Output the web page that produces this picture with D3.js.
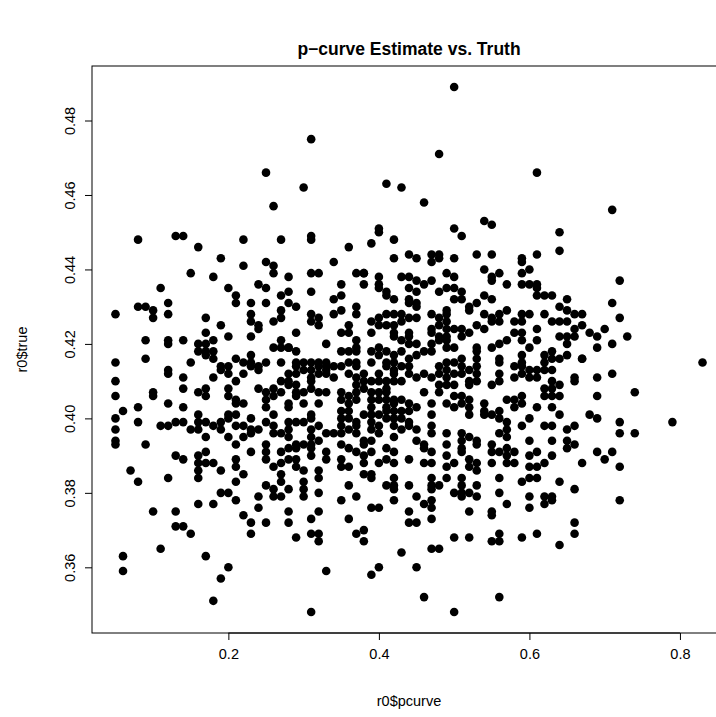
<!DOCTYPE html>
<html>
<head>
<meta charset="utf-8">
<script src="https://cdn.jsdelivr.net/npm/d3@7"></script>
<style>
  body { margin: 0; background: #fff; }
  text { font-family: "Liberation Sans", Arial, Helvetica, sans-serif; }
</style>
</head>
<body>
<svg id="chart" width="716" height="717"></svg>
<script>
// p-curve estimate, one value per column (the estimates come in steps of 0.01)
const pcurveCols = [0.05, 0.06, 0.07, 0.08, 0.09, 0.10, 0.11, 0.12, 0.13, 0.14, 0.15, 0.16, 0.17, 0.18, 0.19,
  0.20, 0.21, 0.22, 0.23, 0.24, 0.25, 0.26, 0.27, 0.28, 0.29, 0.30, 0.31, 0.32, 0.33, 0.34, 0.35, 0.36, 0.37,
  0.38, 0.39, 0.40, 0.41, 0.42, 0.43, 0.44, 0.45, 0.46, 0.47, 0.48, 0.49, 0.50, 0.51, 0.52, 0.53, 0.54, 0.55,
  0.56, 0.57, 0.58, 0.59, 0.60, 0.61, 0.62, 0.63, 0.64, 0.65, 0.66, 0.67, 0.68, 0.69, 0.70, 0.71, 0.72, 0.73,
  0.74, 0.79, 0.83];

// true values for each of the columns above
const truthCols = [
  [0.428, 0.415, 0.410, 0.406, 0.400, 0.397, 0.394, 0.393],
  [0.402, 0.363, 0.359],
  [0.386],
  [0.448, 0.430, 0.403, 0.399, 0.383],
  [0.430, 0.421, 0.416, 0.393],
  [0.429, 0.427, 0.407, 0.406, 0.375],
  [0.435, 0.398, 0.365],
  [0.431, 0.428, 0.421, 0.420, 0.413, 0.412, 0.404, 0.398, 0.384],
  [0.449, 0.399, 0.390, 0.375, 0.371],
  [0.449, 0.421, 0.411, 0.408, 0.403, 0.399, 0.389, 0.371],
  [0.439, 0.415, 0.397, 0.369],
  [0.446, 0.420, 0.418, 0.407, 0.401, 0.399, 0.397, 0.390, 0.388, 0.386, 0.384, 0.377],
  [0.427, 0.423, 0.420, 0.418, 0.417, 0.408, 0.406, 0.399, 0.395, 0.391, 0.388, 0.363],
  [0.438, 0.421, 0.418, 0.416, 0.411, 0.398, 0.388, 0.377, 0.351],
  [0.443, 0.425, 0.414, 0.413, 0.399, 0.397, 0.386, 0.380, 0.357],
  [0.435, 0.422, 0.414, 0.412, 0.408, 0.406, 0.401, 0.400, 0.395, 0.380, 0.360],
  [0.433, 0.431, 0.416, 0.410, 0.405, 0.404, 0.401, 0.398, 0.393, 0.389, 0.387, 0.383, 0.378],
  [0.448, 0.441, 0.415, 0.412, 0.404, 0.398, 0.395, 0.385, 0.374],
  [0.431, 0.428, 0.426, 0.422, 0.417, 0.415, 0.414, 0.400, 0.397, 0.396, 0.391, 0.372, 0.369],
  [0.436, 0.425, 0.424, 0.414, 0.413, 0.408, 0.397, 0.379, 0.376],
  [0.466, 0.442, 0.435, 0.431, 0.415, 0.407, 0.405, 0.403, 0.399, 0.393, 0.391, 0.389, 0.382, 0.372],
  [0.457, 0.441, 0.439, 0.426, 0.419, 0.408, 0.406, 0.401, 0.398, 0.396, 0.387, 0.381, 0.379],
  [0.448, 0.433, 0.429, 0.427, 0.421, 0.419, 0.415, 0.410, 0.407, 0.396, 0.391, 0.388, 0.385, 0.383, 0.379],
  [0.438, 0.434, 0.431, 0.419, 0.419, 0.412, 0.410, 0.409, 0.404, 0.403, 0.399, 0.397, 0.395, 0.392, 0.389,
    0.381, 0.375, 0.372],
  [0.430, 0.423, 0.418, 0.415, 0.414, 0.412, 0.409, 0.407, 0.406, 0.399, 0.393, 0.392, 0.389, 0.387, 0.368],
  [0.462, 0.415, 0.413, 0.407, 0.404, 0.399, 0.393, 0.386, 0.383, 0.381, 0.379],
  [0.475, 0.449, 0.448, 0.439, 0.434, 0.428, 0.426, 0.415, 0.413, 0.411, 0.410, 0.408, 0.401, 0.400, 0.397,
    0.395, 0.393, 0.392, 0.390, 0.373, 0.369, 0.348],
  [0.439, 0.427, 0.425, 0.415, 0.414, 0.412, 0.407, 0.404, 0.398, 0.394, 0.386, 0.384, 0.380, 0.375, 0.369, 0.367],
  [0.420, 0.415, 0.414, 0.413, 0.412, 0.407, 0.396, 0.391, 0.389, 0.359],
  [0.442, 0.432, 0.428, 0.414, 0.411, 0.396],
  [0.436, 0.433, 0.429, 0.423, 0.418, 0.414, 0.407, 0.405, 0.402, 0.400, 0.398, 0.396, 0.393, 0.389, 0.387, 0.378],
  [0.446, 0.425, 0.423, 0.418, 0.415, 0.412, 0.406, 0.404, 0.402, 0.400, 0.397, 0.392, 0.387, 0.382, 0.373],
  [0.439, 0.430, 0.428, 0.421, 0.419, 0.418, 0.415, 0.414, 0.411, 0.409, 0.407, 0.405, 0.399, 0.398, 0.396,
    0.391, 0.379, 0.369],
  [0.439, 0.439, 0.436, 0.412, 0.410, 0.408, 0.401, 0.394, 0.393, 0.390, 0.388, 0.385, 0.370, 0.367],
  [0.447, 0.426, 0.423, 0.418, 0.415, 0.410, 0.407, 0.405, 0.403, 0.401, 0.399, 0.397, 0.394, 0.391, 0.385,
    0.384, 0.376, 0.358],
  [0.451, 0.450, 0.438, 0.436, 0.435, 0.427, 0.425, 0.419, 0.417, 0.412, 0.410, 0.407, 0.405, 0.401, 0.398,
    0.396, 0.388, 0.376, 0.360],
  [0.463, 0.434, 0.433, 0.428, 0.425, 0.418, 0.415, 0.414, 0.410, 0.408, 0.407, 0.405, 0.403, 0.402, 0.400,
    0.392, 0.389, 0.382],
  [0.448, 0.443, 0.432, 0.428, 0.425, 0.423, 0.422, 0.417, 0.415, 0.413, 0.412, 0.410, 0.405, 0.404, 0.402,
    0.400, 0.398, 0.395, 0.391, 0.388, 0.384, 0.382, 0.381, 0.378],
  [0.462, 0.438, 0.428, 0.426, 0.421, 0.418, 0.414, 0.410, 0.405, 0.402, 0.400, 0.397, 0.364],
  [0.444, 0.438, 0.435, 0.432, 0.431, 0.427, 0.423, 0.422, 0.420, 0.416, 0.414, 0.412, 0.404, 0.402, 0.399,
    0.398, 0.389, 0.382, 0.375, 0.372],
  [0.443, 0.437, 0.434, 0.431, 0.430, 0.427, 0.420, 0.417, 0.411, 0.403, 0.397, 0.394, 0.379, 0.372, 0.360],
  [0.458, 0.436, 0.418, 0.412, 0.407, 0.393, 0.392, 0.388, 0.377, 0.352],
  [0.444, 0.442, 0.437, 0.428, 0.424, 0.423, 0.420, 0.418, 0.411, 0.404, 0.401, 0.398, 0.396, 0.391, 0.388,
    0.384, 0.382, 0.381, 0.378, 0.376, 0.373, 0.365],
  [0.471, 0.444, 0.443, 0.434, 0.427, 0.425, 0.422, 0.421, 0.414, 0.412, 0.409, 0.407, 0.382, 0.365],
  [0.439, 0.435, 0.429, 0.428, 0.426, 0.424, 0.422, 0.421, 0.419, 0.415, 0.413, 0.411, 0.409, 0.404, 0.396,
    0.393, 0.390, 0.387, 0.384],
  [0.489, 0.451, 0.443, 0.438, 0.435, 0.432, 0.424, 0.419, 0.415, 0.412, 0.409, 0.406, 0.403, 0.388, 0.380,
    0.368, 0.348],
  [0.449, 0.434, 0.432, 0.424, 0.422, 0.416, 0.414, 0.412, 0.406, 0.404, 0.396, 0.394, 0.392, 0.391, 0.384,
    0.382, 0.380, 0.379],
  [0.430, 0.429, 0.423, 0.413, 0.410, 0.409, 0.405, 0.403, 0.401, 0.395, 0.389, 0.387, 0.380, 0.375, 0.368],
  [0.444, 0.431, 0.425, 0.419, 0.418, 0.416, 0.414, 0.412, 0.410, 0.394, 0.393, 0.388, 0.386, 0.382, 0.379],
  [0.453, 0.440, 0.433, 0.428, 0.424, 0.404, 0.402, 0.401],
  [0.452, 0.444, 0.438, 0.437, 0.432, 0.427, 0.426, 0.419, 0.409, 0.401, 0.393, 0.391, 0.388, 0.375, 0.374, 0.367],
  [0.439, 0.428, 0.426, 0.420, 0.416, 0.415, 0.412, 0.410, 0.402, 0.400, 0.396, 0.391, 0.384, 0.380, 0.369,
    0.367, 0.352],
  [0.436, 0.429, 0.421, 0.405, 0.399, 0.397, 0.395, 0.392, 0.390, 0.388, 0.377],
  [0.426, 0.423, 0.414, 0.411, 0.405, 0.403, 0.391, 0.388],
  [0.443, 0.442, 0.439, 0.436, 0.428, 0.426, 0.423, 0.421, 0.417, 0.415, 0.414, 0.412, 0.406, 0.404, 0.398,
    0.383, 0.368],
  [0.440, 0.436, 0.428, 0.419, 0.413, 0.411, 0.400, 0.394, 0.390, 0.387, 0.384, 0.379, 0.376],
  [0.466, 0.444, 0.436, 0.435, 0.433, 0.424, 0.421, 0.413, 0.411, 0.403, 0.391, 0.387, 0.384, 0.369],
  [0.433, 0.428, 0.417, 0.415, 0.413, 0.408, 0.406, 0.398, 0.388, 0.379, 0.377],
  [0.433, 0.426, 0.418, 0.416, 0.413, 0.410, 0.408, 0.406, 0.403, 0.398, 0.394, 0.390, 0.379, 0.378],
  [0.450, 0.445, 0.430, 0.426, 0.422, 0.416, 0.409, 0.406, 0.401, 0.383, 0.366],
  [0.432, 0.429, 0.426, 0.422, 0.420, 0.417, 0.397, 0.394, 0.392],
  [0.428, 0.424, 0.422, 0.411, 0.410, 0.398, 0.393, 0.381, 0.372, 0.369],
  [0.428, 0.425, 0.416, 0.416, 0.388],
  [0.423, 0.401],
  [0.422, 0.419, 0.411, 0.406, 0.400, 0.391],
  [0.424, 0.389],
  [0.456, 0.431, 0.420, 0.412, 0.391],
  [0.437, 0.427, 0.399, 0.396, 0.387, 0.378],
  [0.422],
  [0.407, 0.396],
  [0.399],
  [0.415]
];

const xTicks = [0.2, 0.4, 0.6, 0.8];
const yTicks = [0.36, 0.38, 0.40, 0.42, 0.44, 0.46, 0.48];

const titleText = "p\u2212curve Estimate vs. Truth";
const xLabel = "r0$pcurve";
const yLabel = "r0$true";

// flatten into points
const points = [];
pcurveCols.forEach((p, i) => {
  truthCols[i].forEach(t => points.push({ pcurve: p, truth: t }));
});

const svg = d3.select("#chart");

// plot region (R style: right side runs past the picture edge)
const box = { left: 92, right: 726, top: 66, bottom: 633 };

// R extends the data range by 4% on each side
const xExt = d3.extent(points, d => d.pcurve);
const yExt = d3.extent(points, d => d.truth);
const xPad = (xExt[1] - xExt[0]) * 0.04;
const yPad = (yExt[1] - yExt[0]) * 0.04;

const x = d3.scaleLinear()
  .domain([xExt[0] - xPad, xExt[1] + xPad])
  .range([box.left, box.right]);

const y = d3.scaleLinear()
  .domain([yExt[0] - yPad, yExt[1] + yPad])
  .range([box.bottom, box.top]);

// points
svg.append("g")
  .selectAll("circle")
  .data(points)
  .join("circle")
    .attr("cx", d => x(d.pcurve))
    .attr("cy", d => y(d.truth))
    .attr("r", 4.3)
    .attr("fill", "#000");

// box
svg.append("rect")
  .attr("x", box.left)
  .attr("y", box.top)
  .attr("width", box.right - box.left)
  .attr("height", box.bottom - box.top)
  .attr("fill", "none")
  .attr("stroke", "#000")
  .attr("stroke-width", 1);

// axes
const xAxis = svg.append("g")
  .attr("transform", "translate(0," + box.bottom + ")")
  .call(d3.axisBottom(x).tickValues(xTicks).tickFormat(d3.format(".1f"))
    .tickSize(7).tickSizeOuter(0).tickPadding(9));

const yAxis = svg.append("g")
  .attr("transform", "translate(" + box.left + ",0)")
  .call(d3.axisLeft(y).tickValues(yTicks).tickFormat(d3.format(".2f"))
    .tickSize(7).tickSizeOuter(0).tickPadding(10));

[xAxis, yAxis].forEach(a => {
  a.select(".domain").remove();
  a.selectAll("line").attr("stroke", "#000");
  a.selectAll("text").attr("font-size", 14.5).attr("fill", "#000")
    .attr("font-family", "'Liberation Sans', Arial, sans-serif");
});

// y tick labels run along the axis
yAxis.selectAll(".tick text")
  .attr("text-anchor", "middle")
  .attr("dy", 0)
  .attr("x", 0)
  .attr("transform", "translate(-17,0) rotate(-90)");

// axis lines only between first and last tick
svg.append("line")
  .attr("x1", x(xTicks[0])).attr("x2", x(xTicks[xTicks.length - 1]))
  .attr("y1", box.bottom).attr("y2", box.bottom)
  .attr("stroke", "#000");

svg.append("text")
  .attr("x", (box.left + box.right) / 2)
  .attr("y", 55)
  .attr("text-anchor", "middle")
  .attr("font-size", 17.5)
  .attr("font-weight", "bold")
  .text(titleText);

svg.append("text")
  .attr("x", (box.left + box.right) / 2)
  .attr("y", 706)
  .attr("text-anchor", "middle")
  .attr("font-size", 14.5)
  .text(xLabel);

svg.append("text")
  .attr("transform", "translate(27," + (box.top + box.bottom) / 2 + ") rotate(-90)")
  .attr("text-anchor", "middle")
  .attr("font-size", 14.5)
  .text(yLabel);
</script>
</body>
</html>
